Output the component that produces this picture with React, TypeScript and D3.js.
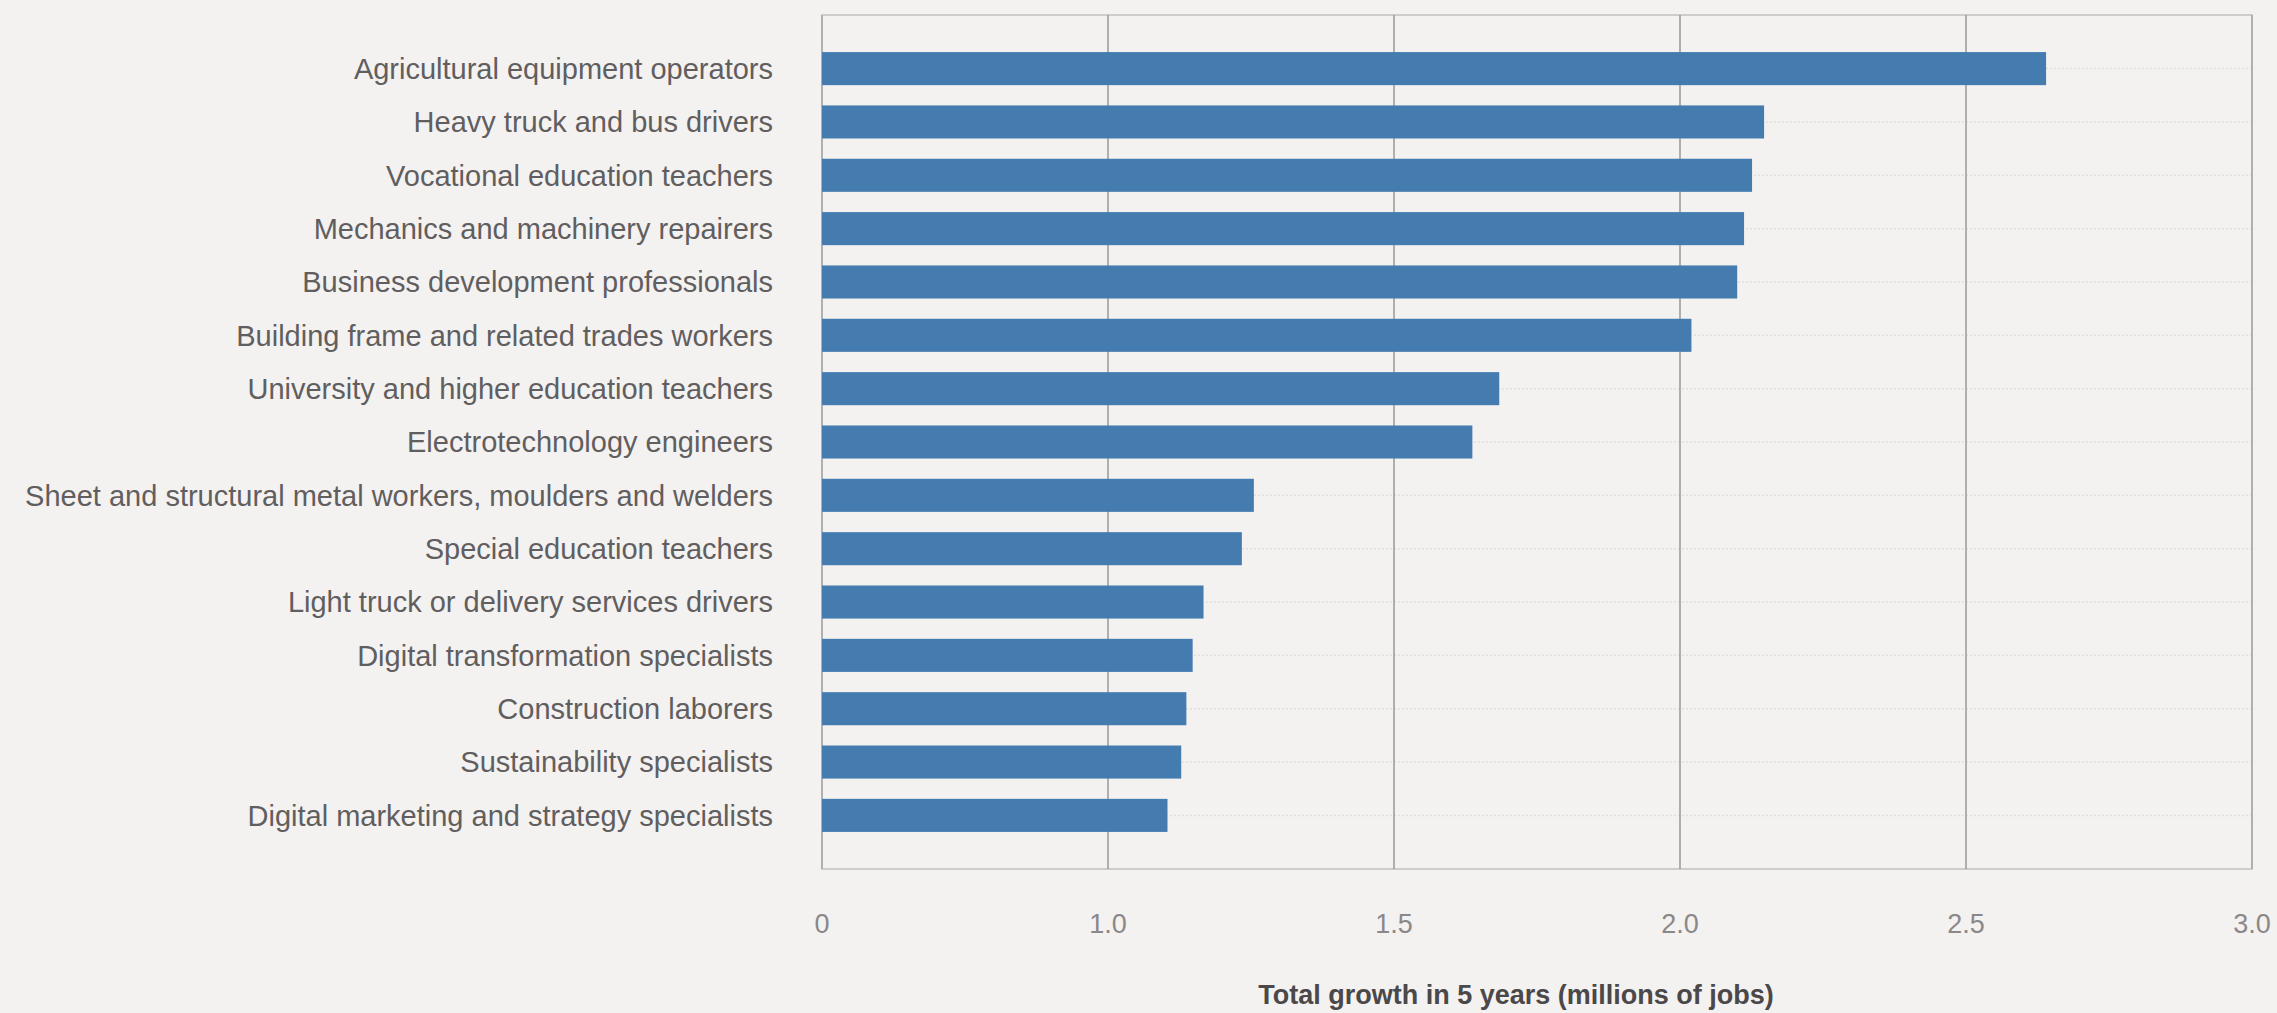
import React from "react";
import * as d3 from "d3";

const categories = [
  "Agricultural equipment operators",
  "Heavy truck and bus drivers",
  "Vocational education teachers",
  "Mechanics and machinery repairers",
  "Business development professionals",
  "Building frame and related trades workers",
  "University and higher education teachers",
  "Electrotechnology engineers",
  "Sheet and structural metal workers, moulders and welders",
  "Special education teachers",
  "Light truck or delivery services drivers",
  "Digital transformation specialists",
  "Construction laborers",
  "Sustainability specialists",
  "Digital marketing and strategy specialists",
];

const values = [2.64, 2.147, 2.126, 2.112, 2.1, 2.02, 1.684, 1.637, 1.255, 1.234, 1.167, 1.148, 1.137, 1.128, 1.104];

const tickValues = [0.5, 1.0, 1.5, 2.0, 2.5, 3.0];
const tickLabels = ["0", "1.0", "1.5", "2.0", "2.5", "3.0"];
const axisTitle = "Total growth in 5 years (millions of jobs)";

const W = 2277;
const H = 1013;
const left = 822;
const right = 2252;
const top = 15;
const bottom = 869;

export default function App() {
  const x = d3.scaleLinear().domain([0.5, 3.0]).range([left, right]);
  const y = d3
    .scaleBand<string>()
    .domain(categories)
    .range([top, bottom])
    .paddingInner(0.38)
    .paddingOuter(0.695);
  const bw = y.bandwidth();
  const font = "'Liberation Sans', Arial, Helvetica, sans-serif";
  return (
    <svg
      width={W}
      height={H}
      style={{ position: "absolute", left: 0, top: 0, background: "#f4f1f1" }}
    >
      <rect x={0} y={0} width={W} height={H} fill="#f4f1f1" />
      {/* faint row guides */}
      {categories.map((c) => (
        <line
          key={"g" + c}
          x1={left}
          x2={right}
          y1={(y(c) as number) + bw / 2}
          y2={(y(c) as number) + bw / 2}
          stroke="#e2dede"
          strokeWidth={1.5}
          strokeDasharray="2,2"
        />
      ))}
      {/* frame */}
      <rect
        x={left}
        y={top}
        width={right - left}
        height={bottom - top}
        fill="none"
        stroke="#cfcccc"
        strokeWidth={2}
      />
      {/* vertical gridlines */}
      {tickValues.slice(1, -1).map((t) => (
        <line
          key={"v" + t}
          x1={x(t)}
          x2={x(t)}
          y1={top}
          y2={bottom}
          stroke="#9a9898"
          strokeWidth={1.5}
        />
      ))}
      <line x1={left} x2={left} y1={top} y2={bottom} stroke="#a8a6a6" strokeWidth={1.5} />
      <line x1={right} x2={right} y1={top} y2={bottom} stroke="#a8a6a6" strokeWidth={1.5} />
      {/* bars */}
      {categories.map((c, i) => (
        <rect
          key={"b" + c}
          x={x(x.domain()[0])}
          y={y(c)}
          width={x(values[i]) - x(x.domain()[0])}
          height={bw}
          fill="#447cb0"
        />
      ))}
      {/* category labels */}
      {categories.map((c) => (
        <text
          key={"l" + c}
          x={773}
          y={(y(c) as number) + bw / 2}
          dy="0.36em"
          textAnchor="end"
          fontFamily={font}
          fontSize={29}
          fill="#605e5e"
        >
          {c}
        </text>
      ))}
      {/* tick labels */}
      {tickValues.map((t, i) => (
        <text
          key={"t" + t}
          x={x(t)}
          y={933}
          textAnchor="middle"
          fontFamily={font}
          fontSize={27}
          fill="#8a8888"
        >
          {tickLabels[i]}
        </text>
      ))}
      <text
        x={1516}
        y={1004}
        textAnchor="middle"
        fontFamily={font}
        fontSize={27}
        fontWeight="bold"
        fill="#4a4848"
      >
        {axisTitle}
      </text>
    </svg>
  );
}
